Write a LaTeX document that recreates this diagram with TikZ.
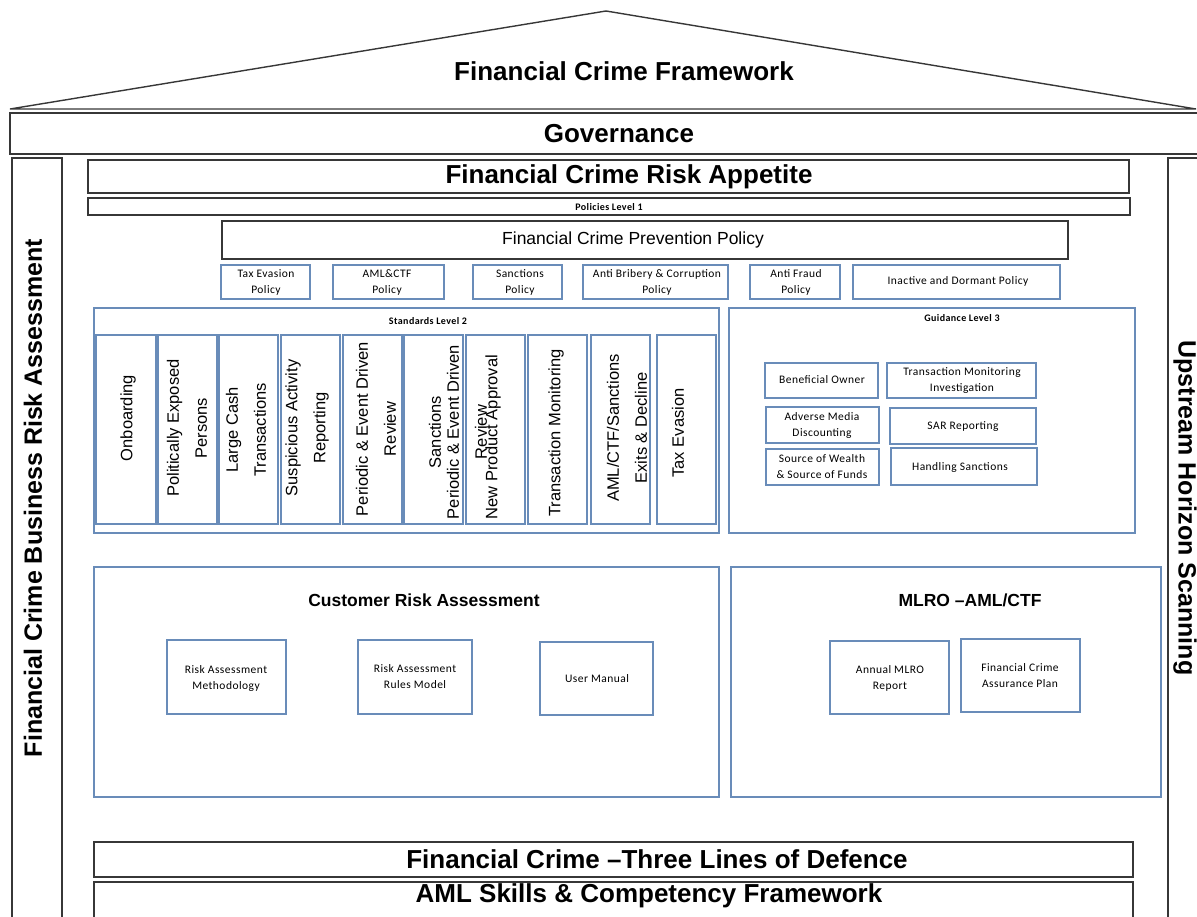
\documentclass[tikz,border=0pt]{standalone}
\usepackage{fontspec}
\setmainfont{Liberation Sans}
\newfontfamily\calfont[LetterSpace=4]{Carlito}
\definecolor{dk}{RGB}{55,55,55}
\definecolor{bl}{RGB}{105,140,185}
\newcommand\boxnode[6]{\node[#1, anchor=north west, inner sep=0pt, outer sep=0pt, minimum width={(#5-#3)*1pt}, minimum height={(#6-#4)*1pt}] (#2) at (#3,#4) {};}
\tikzset{
  dkbox/.style={draw=dk, line width=1.4pt},
  blbox/.style={draw=bl, line width=1.2pt},
  bigtxt/.style={font=\fontsize{26}{30}\selectfont\bfseries, inner sep=0pt},
  pillartxt/.style={font=\fontsize{25}{30}\selectfont\bfseries, inner sep=0pt},
  coltxt/.style={font=\fontsize{16.5}{28}\selectfont, align=center, inner sep=0pt, rotate=90},
  smalltxt/.style={font=\calfont\fontsize{11.5}{16}\selectfont, align=center, inner sep=0pt},
  headtxt/.style={font=\calfont\bfseries\fontsize{10}{12}\selectfont, inner sep=0pt},
  midtxt/.style={font=\fontsize{17.5}{20}\selectfont\bfseries, inner sep=0pt},
  regtxt/.style={font=\fontsize{17.5}{20}\selectfont, inner sep=0pt},
}
\begin{document}
\begin{tikzpicture}[x=1pt,y=-1pt]
\useasboundingbox (0,0) rectangle (1197,916);
\clip (0,0) rectangle (1197,916);
% roof
\coordinate (roofL) at (10,109);
\coordinate (apex) at (606,11);
\coordinate (roofR) at (1196,109);
\draw[dk, line width=1.4pt, line join=miter] (roofL) -- (apex) -- (roofR) -- cycle;
\node[bigtxt] (fcf) at (624,71) {Financial Crime Framework};
% governance
\boxnode{dkbox}{gov}{10}{113}{1210}{154}
\node[bigtxt] (govt) at (619,134) {Governance};
% pillars
\boxnode{dkbox}{lpil}{12}{158}{62}{940}
\node[pillartxt, rotate=90] (lpilt) at (33,498) {Financial Crime Business Risk Assessment};
\boxnode{dkbox}{rpil}{1168}{158}{1230}{940}
\node[pillartxt, rotate=-90] (rpilt) at (1185,508) {Upstream Horizon Scanning};
% appetite and policies
\boxnode{dkbox}{app}{88}{160}{1129}{193}
\node[bigtxt] (appt) at (629,177) {Financial Crime Risk Appetite};
\boxnode{dkbox}{pl1}{88}{198}{1130}{215}
\node[headtxt] (pl1t) at (609,207) {Policies Level 1};
\boxnode{dkbox}{prev}{222}{221}{1068}{259}
\node[regtxt] (prevt) at (633,240) {Financial Crime Prevention Policy};
% policy boxes
\boxnode{blbox}{p1}{221}{265}{310}{299}
\node[smalltxt] (p1t) at (266,282) {Tax Evasion\\Policy};
\boxnode{blbox}{p2}{333}{265}{444}{299}
\node[smalltxt] (p2t) at (387,282) {AML\&CTF\\Policy};
\boxnode{blbox}{p3}{473}{265}{562}{299}
\node[smalltxt] (p3t) at (520,282) {Sanctions\\Policy};
\boxnode{blbox}{p4}{583}{265}{728}{299}
\node[smalltxt] (p4t) at (657,282) {Anti Bribery \& Corruption\\Policy};
\boxnode{blbox}{p5}{750}{265}{840}{299}
\node[smalltxt] (p5t) at (796,282) {Anti Fraud\\Policy};
\boxnode{blbox}{p6}{853}{265}{1060}{299}
\node[smalltxt] (p6t) at (958,281) {Inactive and Dormant Policy};
% standards
\boxnode{blbox}{std}{94}{308}{719}{533}
\node[headtxt] (stdt) at (428,321) {Standards Level 2};
\boxnode{blbox}{c1}{96}{335}{156}{524}
\node[coltxt] (c1t) at (128,418) {Onboarding};
\boxnode{blbox}{c2}{158}{335}{217}{524}
\node[coltxt] (c2t) at (187,428) {Politically Exposed\\Persons};
\boxnode{blbox}{c3}{219}{335}{278}{524}
\node[coltxt] (c3t) at (246,430) {Large Cash\\Transactions};
\boxnode{blbox}{c4}{281}{335}{340}{524}
\node[coltxt] (c4t) at (307,428) {Suspicious Activity\\Reporting};
\boxnode{blbox}{c5}{343}{335}{402}{524}
\node[coltxt] (c5t) at (376,429) {Periodic \& Event Driven\\Review};
\boxnode{blbox}{c6}{404}{335}{463}{524}
\boxnode{blbox}{c7}{466}{335}{525}{524}
\node[coltxt] (c6t) at (458,432) {Sanctions\\[-10pt]Periodic \& Event Driven\\Review};
\node[coltxt] (c7t) at (493,437) {New Product Approval};
\boxnode{blbox}{c8}{528}{335}{587}{524}
\node[coltxt] (c8t) at (556,433) {Transaction Monitoring};
\boxnode{blbox}{c9}{591}{335}{650}{524}
\node[coltxt] (c9t) at (627,428) {AML/CTF/Sanctions\\Exits \& Decline};
\boxnode{blbox}{c10}{657}{335}{716}{524}
\node[coltxt] (c10t) at (678,433) {Tax Evasion};
% guidance
\boxnode{blbox}{gd}{729}{308}{1135}{533}
\node[headtxt] (gdt) at (962,318) {Guidance Level 3};
\boxnode{blbox}{g1}{765}{363}{878}{398}
\node[smalltxt] (g1t) at (822,380) {Beneficial Owner};
\boxnode{blbox}{g2}{887}{363}{1036}{398}
\node[smalltxt] (g2t) at (962,381) {Transaction Monitoring\\Investigation};
\boxnode{blbox}{g3}{766}{407}{879}{443}
\node[smalltxt] (g3t) at (822,425) {Adverse Media\\Discounting};
\boxnode{blbox}{g4}{890}{408}{1036}{444}
\node[smalltxt] (g4t) at (963,427) {SAR Reporting};
\boxnode{blbox}{g5}{766}{449}{879}{485}
\node[smalltxt] (g5t) at (822,467) {Source of Wealth\\\& Source of Funds};
\boxnode{blbox}{g6}{891}{448}{1037}{485}
\node[smalltxt] (g6t) at (960,467) {Handling Sanctions};
% customer risk assessment
\boxnode{blbox}{cra}{94}{567}{719}{797}
\node[midtxt] (crat) at (424,600) {Customer Risk Assessment};
\boxnode{blbox}{r1}{167}{640}{286}{714}
\node[smalltxt] (r1t) at (226,678) {Risk Assessment\\Methodology};
\boxnode{blbox}{r2}{358}{640}{472}{714}
\node[smalltxt] (r2t) at (415,677) {Risk Assessment\\Rules Model};
\boxnode{blbox}{r3}{540}{642}{653}{715}
\node[smalltxt] (r3t) at (597,679) {User Manual};
% MLRO
\boxnode{blbox}{mlro}{731}{567}{1161}{797}
\node[midtxt] (mlrot) at (970,600) {MLRO –AML/CTF};
\boxnode{blbox}{m1}{830}{641}{949}{714}
\node[smalltxt] (m1t) at (890,678) {Annual MLRO\\Report};
\boxnode{blbox}{m2}{961}{639}{1080}{712}
\node[smalltxt] (m2t) at (1020,676) {Financial Crime\\Assurance Plan};
% bottom
\boxnode{dkbox}{tlod}{94}{842}{1133}{877}
\node[bigtxt] (tlodt) at (657,859) {Financial Crime –Three Lines of Defence};
\boxnode{dkbox}{aml}{94}{882}{1133}{940}
\node[bigtxt] (amlt) at (649,896) {AML Skills \& Competency Framework};
\end{tikzpicture}
\end{document}
